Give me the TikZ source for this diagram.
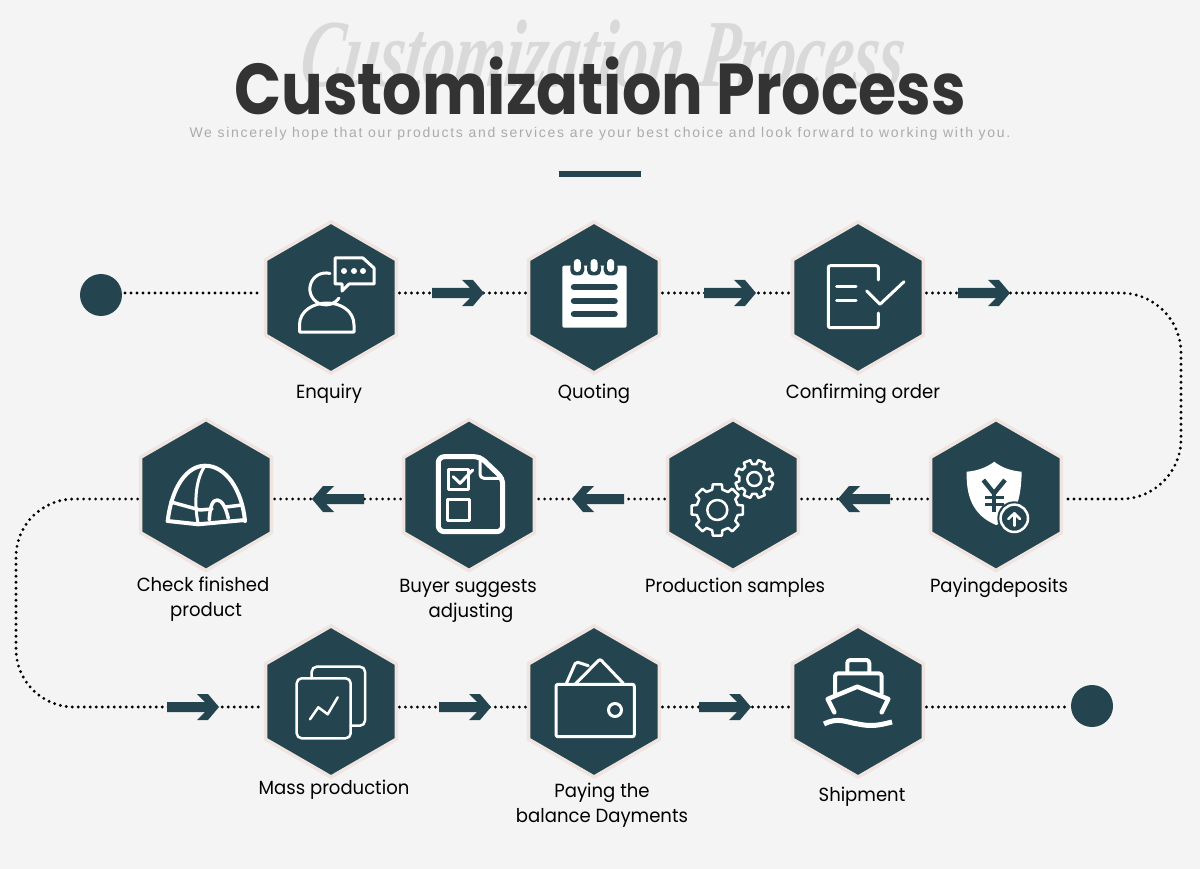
\documentclass[tikz,border=0pt]{standalone}
\usepackage{fontspec}
\usetikzlibrary{arrows.meta,positioning,shapes.geometric}
\newfontfamily\titlefont[FakeStretch=0.86]{Poppins}
\newfontfamily\ghostfont[FakeStretch=0.67,FakeSlant=0.12]{Liberation Serif}
\newfontfamily\subfont[LetterSpace=12.2]{Liberation Sans}
\newfontfamily\labelfont[FakeStretch=0.95]{Poppins}
\definecolor{hexteal}{HTML}{24454F}
\definecolor{hexrim}{HTML}{EFE4DF}
\definecolor{pagegray}{HTML}{F4F4F4}
\tikzset{
  flowarrow/.pic={
    \fill[hexteal] (0,0) -- (-11,-13) -- (-22,-13) -- (-14,-5) -- (-52,-5)
      -- (-52,5) -- (-14,5) -- (-22,13) -- (-11,13) -- cycle;
  },
}

\begin{document}
\begin{tikzpicture}[
  x=1pt, y=-1pt,
  hexcell/.style={regular polygon, regular polygon sides=6, regular polygon rotate=30,
    minimum size=151pt, inner sep=0pt, outer sep=0pt, fill=hexteal, draw=hexrim, line width=3.5pt},
  enddot/.style={circle, fill=hexteal, minimum size=42pt, inner sep=0pt, outer sep=0pt},
  steplabel/.style={align=center, text=black,
    font=\labelfont\fontsize{19}{24.5}\selectfont},
  dotline/.style={line width=3.2pt, line cap=round, dash pattern=on 0pt off 6pt,
    shorten <=3pt, shorten >=3pt},
  iconline/.style={draw=white, line width=3pt, line join=round, line cap=round},
  iconthin/.style={iconline, line width=2.5pt},
]
  \fill[pagegray] (0,0) rectangle (1200,869);
  \useasboundingbox (0,0) rectangle (1200,869);

  \node[text=black!15, font=\ghostfont\bfseries\itshape\fontsize{96}{96}\selectfont] (ghost) at (600,54) {Customization Process};
  \node[text=black!80, font=\titlefont\bfseries\fontsize{72}{72}\selectfont] (title) at (600,86) {Customization Process};
  \node[text=black!33, font=\subfont\fontsize{14}{14}\selectfont] (subtitle) at (600,134)
    {We sincerely hope that our products and services are your best choice and look forward to working with you.};
  \fill[hexteal] (559,171) rectangle (641,177);

  \node[enddot] (startdot) at (101,295) {};
  \node[enddot] (stopdot) at (1092,706) {};

  \node[hexcell] (hexA) at (331,297.5) {};
  \node[hexcell] (hexB) at (594,297.5) {};
  \node[hexcell] (hexC) at (858,297.5) {};
  \node[hexcell] (hexD) at (996,495) {};
  \node[hexcell] (hexE) at (733,495) {};
  \node[hexcell] (hexF) at (469,495) {};
  \node[hexcell] (hexG) at (206,495) {};
  \node[hexcell] (hexH) at (331,701.5) {};
  \node[hexcell] (hexI) at (594,701.5) {};
  \node[hexcell] (hexJ) at (858,701.5) {};

  \coordinate (arrA) at (484,293);
  \coordinate (arrB) at (756,293);
  \coordinate (arrC) at (1010,293);
  \coordinate (arrD) at (838,499);
  \coordinate (arrE) at (572,499);
  \coordinate (arrF) at (312,499);
  \coordinate (arrG) at (219,707);
  \coordinate (arrH) at (491,707);
  \coordinate (arrI) at (751,707);
  \coordinate (turnA) at (1181,293);
  \coordinate (turnB) at (1181,499);
  \coordinate (turnC) at (16,499);
  \coordinate (turnD) at (16,707);

  \draw[dotline] (startdot.east |- arrA) -- (hexA.west |- arrA);
  \draw[dotline] (hexA.east |- arrA) -- (hexB.west |- arrA);
  \draw[dotline] (hexB.east |- arrB) -- (hexC.west |- arrB);
  \draw[dotline, rounded corners=60pt] (hexC.east |- arrC) -- (turnA) -- (turnB) -- (hexD.east |- arrD);
  \draw[dotline] (hexD.west |- arrD) -- (hexE.east |- arrD);
  \draw[dotline] (hexE.west |- arrE) -- (hexF.east |- arrE);
  \draw[dotline] (hexF.west |- arrF) -- (hexG.east |- arrF);
  \draw[dotline, rounded corners=58pt] (hexG.west |- arrF) -- (turnC) -- (turnD) -- (hexH.west |- arrG);
  \draw[dotline] (hexH.east |- arrH) -- (hexI.west |- arrH);
  \draw[dotline] (hexI.east |- arrI) -- (hexJ.west |- arrI);
  \draw[dotline] (hexJ.east |- arrI) -- (stopdot.west |- arrI);

  \pic at (arrA) {flowarrow};
  \pic at (arrB) {flowarrow};
  \pic at (arrC) {flowarrow};
  \pic[rotate=180] at (arrD) {flowarrow};
  \pic[rotate=180] at (arrE) {flowarrow};
  \pic[rotate=180] at (arrF) {flowarrow};
  \pic at (arrG) {flowarrow};
  \pic at (arrH) {flowarrow};
  \pic at (arrI) {flowarrow};

  \node[steplabel] (labA) at (329,394) {Enquiry};
  \node[steplabel] (labB) at (594,394) {Quoting};
  \node[steplabel] (labC) at (863,394) {Confirming order};
  \node[steplabel] (labD) at (999,588) {Payingdeposits};
  \node[steplabel] (labE) at (735,588) {Production samples};
  \node[steplabel] (labF) at (468,601) {Buyer suggests\\\hspace*{6pt}adjusting};
  \node[steplabel] (labG) at (203,599) {Check finished\\\hspace*{6pt}product};
  \node[steplabel] (labH) at (334,790) {Mass production};
  \node[steplabel] (labI) at (602,805) {Paying the\\balance Dayments};
  \node[steplabel] (labJ) at (862,797) {Shipment};

  % enquiry
  \draw[iconline] (330,273.5) arc[start angle=-75, end angle=-325, radius=16];
  \draw[iconline] (299.5,332) -- (299.5,325) .. controls (299.5,311) and (313,303) .. (327,303)
    .. controls (341,303) and (354,311) .. (354,325) -- (354,332) -- cycle;
  \draw[iconline] (335,258) -- (363,258) -- (374,268) -- (374,284) -- (349,284) -- (342,291) -- (342,284) -- (335,284) -- cycle;
  \foreach \dotx in {344,354,363} \fill[white] (\dotx,271) circle (3);

  % quoting
  \fill[white, rounded corners=2pt] (562.3,265.7) rectangle (626.7,327.7);
  \foreach \ringx in {577.3,594,610.7} {
    \fill[hexteal, rounded corners=5pt] (\ringx-7,262) rectangle (\ringx+7,275.5);
    \fill[white, rounded corners=3.5pt] (\ringx-3.5,259) rectangle (\ringx+3.5,272);
  }
  \foreach \liney in {287,301,314}
    \draw[hexteal, line width=6.5pt, line cap=round] (574,\liney) -- (614.5,\liney);

  % confirming order
  \draw[iconline, rounded corners=2pt] (878.3,280) -- (878.3,265.7) -- (828.3,265.7) -- (828.3,327.7) -- (878.3,327.7) -- (878.3,313);
  \draw[iconline] (836.7,286.7) -- (856,286.7);
  \draw[iconline] (836.7,300.7) -- (856,300.7);
  \draw[iconline] (866.7,291) -- (880,304.3) -- (904,281.7);

  % paying deposits
  \fill[white] (994.3,461.7) .. controls (986,468) and (976,471) .. (966.7,471.7)
    .. controls (966,495) and (972,515) .. (996,525)
    .. controls (1016,518) and (1021,500) .. (1021.7,471.7)
    .. controls (1012,471) and (1002,468) .. (994.3,461.7) -- cycle;
  \draw[hexteal, line width=4.5pt] (983.3,480) -- (994,493.3) -- (1005,480);
  \draw[hexteal, line width=4.5pt] (994,493.3) -- (994,511.7);
  \draw[hexteal, line width=3pt] (985,497.7) -- (1003.5,497.7);
  \draw[hexteal, line width=3pt] (985,504.3) -- (1003.5,504.3);
  \fill[hexteal] (1014.3,518.3) circle (17);
  \draw[iconthin] (1014.3,518.3) circle (13.7);
  \draw[iconthin] (1014.3,525.7) -- (1014.3,513.3);
  \draw[iconthin] (1008.3,519) -- (1014.3,513.3) -- (1020,519);

  % production samples
  \begin{scope}[shift={(717.3,510)}]
    \draw[iconthin] (-14:21) foreach \k in {0,...,7} {
        -- ({\k*45-10}:26) -- ({\k*45+10}:26) -- ({\k*45+14}:21) -- ({\k*45+31}:21)
      } -- cycle;
    \draw[iconthin] (0,0) circle (10);
  \end{scope}
  \begin{scope}[shift={(754.3,479)}]
    \draw[iconthin] (8:15) foreach \k in {0,...,7} {
        -- ({\k*45+12}:19.3) -- ({\k*45+33}:19.3) -- ({\k*45+37}:15) -- ({\k*45+53}:15)
      } -- cycle;
    \draw[iconthin] (0,0) circle (7);
  \end{scope}

  % buyer suggests
  \draw[iconline, line width=5pt, rounded corners=6pt] (438.3,456.7) -- (480,456.7) -- (502.7,478.3) -- (502.7,531.7) -- (438.3,531.7) -- cycle;
  \draw[iconline, rounded corners=4pt] (480,456.7) -- (480,478.3) -- (502.7,478.3);
  \draw[iconline] (448.3,469) rectangle (468.3,489);
  \draw[iconline] (453.3,476.7) -- (460,483.3) -- (472.7,470);
  \draw[iconline] (447.7,499) rectangle (469.3,520);

  % check finished
  \draw[iconline, line width=4pt] (167.7,521) .. controls (172,485) and (188,465.7) .. (205,465.7)
    .. controls (226,465.7) and (242,490) .. (245,521);
  \draw[iconline, line width=4pt] (167.7,521) -- (198.3,524.3) -- (245,520);
  \draw[iconline] (205,465.7) .. controls (195,480) and (194,505) .. (198.3,524.3);
  \draw[iconline, line width=3.5pt] (171,502) -- (200,510) -- (212,509);
  \draw[iconline, line width=3.5pt] (226,507) -- (242,505);
  \draw[iconline, line width=3.5pt] (209.3,520) .. controls (210,505) and (213,500) .. (217.3,500) .. controls (222,500) and (226,508) .. (228.3,518.3);

  % mass production
  \draw[iconthin, rounded corners=5pt] (296.7,678.3) rectangle (350.7,738.3);
  \draw[iconthin, rounded corners=5pt] (311.7,678.3) -- (311.7,666.7) -- (365,666.7) -- (365,725.7) -- (350.7,725.7);
  \draw[iconthin] (310,719.3) -- (318.3,707.3) -- (327.7,714.3) -- (337.7,697.3);

  % balance payment
  \draw[iconline, rounded corners=2pt] (556,684.3) rectangle (634.3,736.7);
  \draw[iconline] (615,710) circle (6.5);
  \draw[iconline, rounded corners=2pt] (566,684.3) -- (576,661.7) -- (588.3,665.7);
  \draw[iconline, rounded corners=2pt] (575,684.3) -- (600,659) -- (623.3,683.3);

  % shipment
  \draw[iconline, line width=4pt, rounded corners=3pt] (847.3,673) -- (847.3,660) -- (869.3,660) -- (869.3,673);
  \draw[iconline, line width=4pt, rounded corners=3pt] (835,693.3) -- (835,673.3) -- (881.7,673.3) -- (881.7,693.3);
  \draw[iconline, line width=4.5pt] (834.3,712.3) -- (827.7,699) -- (857.3,686.7) -- (888.3,699) -- (881.7,712.3);
  \draw[iconline, line width=5pt, line cap=butt] (824,724) .. controls (838,717) and (845,722) .. (858,724) .. controls (872,727) and (880,725) .. (892,722);
\end{tikzpicture}
\end{document}
